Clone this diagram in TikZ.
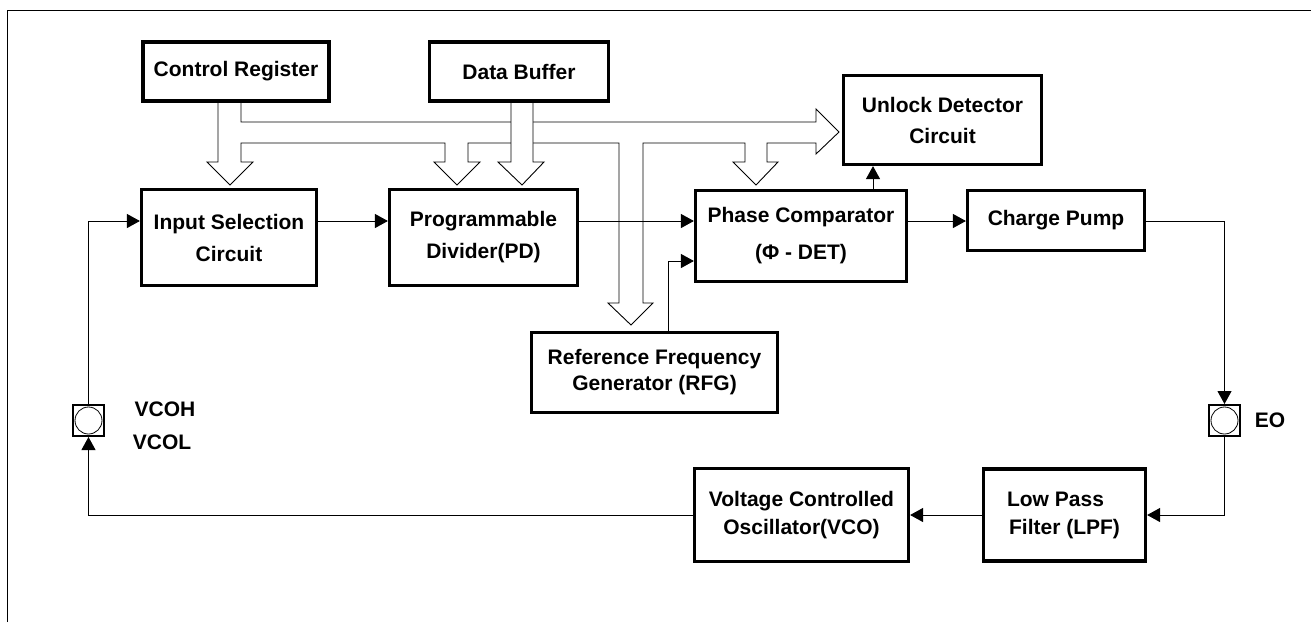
\documentclass[tikz,border=0pt]{standalone}
\usepackage{fontspec}
\setmainfont{Liberation Sans}
\usetikzlibrary{arrows.meta}
\begin{document}
\begin{tikzpicture}[x=1pt,y=-1pt,
  box/.style={draw,line width=3.2pt,fill=white,inner sep=0pt,align=center,
    font=\fontsize{21}{32}\selectfont\bfseries},
  sig/.style={line width=1pt,-{Triangle[length=13pt,width=14pt]}},
  bus/.style={line width=0.9pt,fill=white,line join=miter},
  pad/.style={draw,line width=2pt,minimum size=31pt,inner sep=0pt,fill=white},
  lbl/.style={font=\fontsize{21}{25}\selectfont\bfseries,inner sep=0pt}]
\useasboundingbox (0,0) rectangle (1311,622);
\draw[line width=1pt] (7,622) -- (7,10) -- (1311,10);

% hollow bus from the control register
\filldraw[bus] (218,100) -- (218,162) -- (207,162) -- (230,185) -- (253,162) -- (241,162)
  -- (241,143) -- (445,143) -- (445,162) -- (434,162) -- (457,185) -- (480,162) -- (468,162)
  -- (468,143) -- (619,143) -- (619,303) -- (608,303) -- (631,325) -- (653,303) -- (643,303)
  -- (643,143) -- (745,143) -- (745,162) -- (733,162) -- (756,185) -- (778,162) -- (767,162)
  -- (767,143) -- (816,143) -- (816,154) -- (839,132) -- (816,109) -- (816,122)
  -- (241,122) -- (241,100) -- cycle;
% hollow bus from the data buffer
\filldraw[bus] (511,100) -- (511,162) -- (498,162) -- (522,185) -- (544,162) -- (533,162)
  -- (533,100) -- cycle;

% blocks
\node[box,minimum width=186pt,minimum height=59pt] (cr) at (236,71.5) {Control Register};
\node[box,minimum width=179pt,minimum height=59pt] (db) at (519,71.5) {Data Buffer};
\node[box,minimum width=198pt,minimum height=89pt,font=\fontsize{21}{31}\selectfont\bfseries]
  (ulk) at (942.5,120) {Unlock Detector\\Circuit};
\node[box,minimum width=175pt,minimum height=96pt] (isc) at (229,237.5) {Input Selection\\Circuit};
\node[box,minimum width=188pt,minimum height=96pt] (pd) at (483.5,237.5) {Programmable\\Divider(PD)};
\node[box,minimum width=211pt,minimum height=91pt,font=\fontsize{21}{37}\selectfont\bfseries]
  (pc) at (801,236) {Phase Comparator\\(Φ - DET)};
\node[box,minimum width=177pt,minimum height=60pt] (cp) at (1056,220.5) {Charge Pump};
\node[box,minimum width=246pt,minimum height=80pt,font=\fontsize{21}{26}\selectfont\bfseries]
  (rfg) at (654.5,372.5) {Reference Frequency\\Generator (RFG)};
\node[box,minimum width=214pt,minimum height=93pt,font=\fontsize{21}{28}\selectfont\bfseries]
  (vco) at (801.5,515) {Voltage Controlled\\Oscillator(VCO)};
\node[box,minimum width=162pt,minimum height=92pt,font=\fontsize{21}{28}\selectfont\bfseries]
  (lpf) at (1064.5,515) {Low Pass\hspace*{18pt}\\Filter (LPF)};

% pads
\node[pad] (vcoh) at (88.5,420.5) {};
\draw[line width=0.8pt] (vcoh.center) circle (13.5pt);
\node[pad] (eo) at (1224.5,420.5) {};
\draw[line width=0.8pt] (eo.center) circle (13.5pt);
\node[lbl] (vcohl) at (165,409) {VCOH};
\node[lbl] (vcoll) at (162,442) {VCOL};
\node[lbl] (eol) at (1270,420) {EO};

% signal connectors
\coordinate (row) at (0,221);
\draw[sig] (vcoh.north) |- (isc.west |- row);
\draw[sig] (isc.east |- row) -- (pd.west |- row);
\draw[sig] (pd.east |- row) -- (pc.west |- row);
\draw[sig] (pc.east |- row) -- (cp.west |- row);
\draw[sig] (cp.east |- row) -| (eo.north);
\draw[sig] (eo.south) |- (lpf.east);
\draw[sig] (lpf.west) -- (vco.east);
\draw[sig] (vco.west) -| (vcoh.south);
\coordinate (rfgo) at ([xshift=13.5pt]rfg.north);
\coordinate (pcin) at ([yshift=-25pt]pc.west);
\draw[sig] (rfgo) |- (pcin);
\coordinate (pcu) at ([xshift=72pt]pc.north);
\draw[sig] (pcu) -- (pcu |- ulk.south);
\end{tikzpicture}
\end{document}
